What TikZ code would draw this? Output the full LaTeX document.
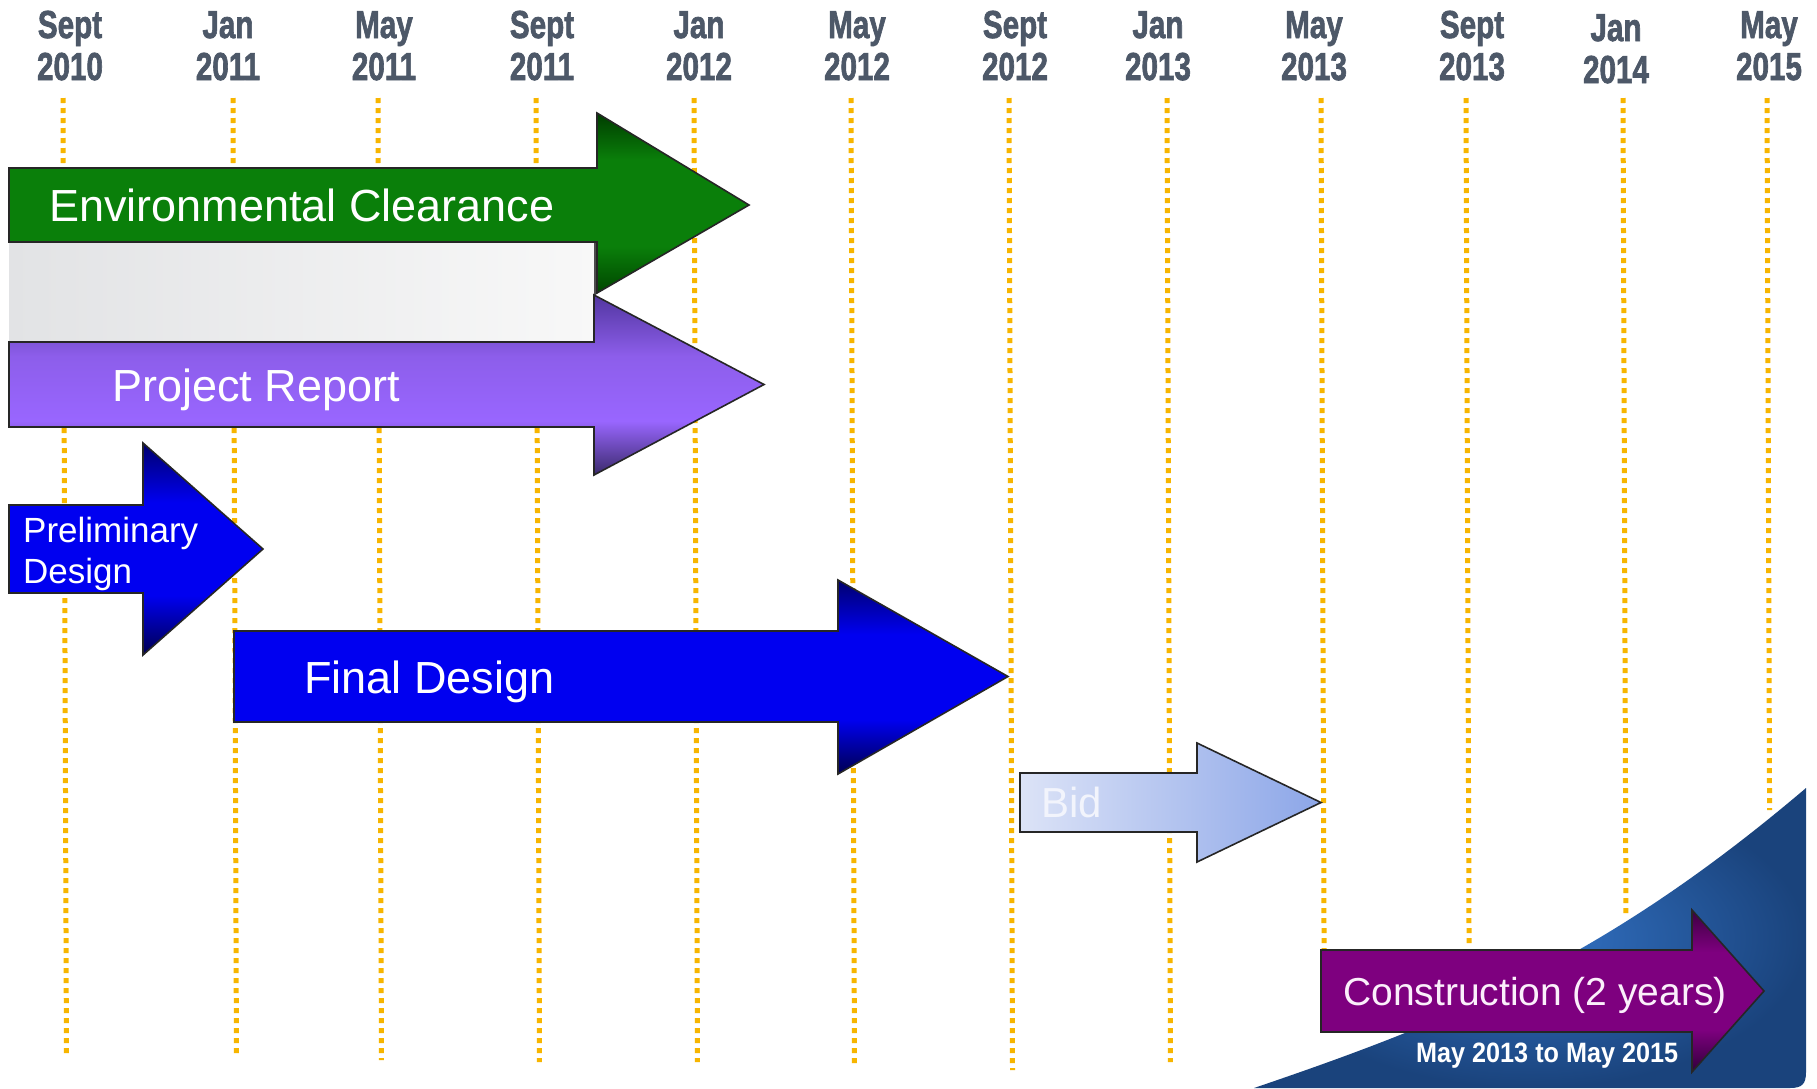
\documentclass[tikz,border=0pt]{standalone}
\usepackage{fontspec}
\setmainfont{Liberation Sans}
\newfontfamily\datefont{Liberation Sans}[BoldFeatures={FakeBold=2}]
\definecolor{dotc}{HTML}{F7B500}
\definecolor{datec}{HTML}{4D5868}
\definecolor{gdkT}{HTML}{003C00}
\definecolor{gmid}{HTML}{0A7F0A}
\definecolor{gdkB}{HTML}{004600}
\definecolor{pdkT}{HTML}{5236A0}
\definecolor{pmid}{HTML}{9966FF}
\definecolor{pdkB}{HTML}{3A2A6B}
\definecolor{bdkT}{HTML}{00006E}
\definecolor{bmid}{HTML}{0000F0}
\definecolor{bdkB}{HTML}{000050}
\definecolor{cdkT}{HTML}{3C0040}
\definecolor{cmid}{HTML}{7E007F}
\definecolor{cdkB}{HTML}{30003A}
\definecolor{bidL}{HTML}{DCE3F7}
\definecolor{bidR}{HTML}{8CA6E8}
\definecolor{bidtxt}{HTML}{F2F4FC}
\definecolor{grayL}{HTML}{E2E3E5}
\definecolor{grayR}{HTML}{F8F8F8}
\definecolor{swL}{HTML}{3373C6}
\definecolor{swD}{HTML}{1A437C}
\definecolor{ctxt}{HTML}{FBEFFB}
\pgfdeclareverticalshading{greensh}{100bp}{color(0bp)=(gdkB); color(25bp)=(gdkB); color(38bp)=(gmid); color(62bp)=(gmid); color(75bp)=(gdkT); color(100bp)=(gdkT)}
\pgfdeclareverticalshading{purplesh}{100bp}{color(0bp)=(pdkB); color(25bp)=(pdkB); color(40bp)=(pmid); color(58bp)=(pmid!92!black); color(75bp)=(pdkT); color(100bp)=(pdkT)}
\pgfdeclareverticalshading{bluesh}{100bp}{color(0bp)=(bdkB); color(25bp)=(bdkB); color(39bp)=(bmid); color(61bp)=(bmid); color(75bp)=(bdkT); color(100bp)=(bdkT)}
\pgfdeclareverticalshading{constrsh}{100bp}{color(0bp)=(cdkB); color(25bp)=(cdkB); color(38bp)=(cmid); color(62bp)=(cmid); color(75bp)=(cdkT); color(100bp)=(cdkT)}
\tikzset{
  dotline/.style={draw=dotc, line width=5pt, dash pattern=on 5pt off 5pt},
  arrowbox/.style={draw=black!85, line width=1.6pt, line join=miter},
  datelab/.style={inner sep=0pt, anchor=base, text=datec, font=\datefont\bfseries\fontsize{39}{39}\selectfont},
  bartext/.style={inner sep=0pt, anchor=base west, text=white},
}
\begin{document}
\begin{tikzpicture}[x=1pt,y=-1pt]
\useasboundingbox (0,0) rectangle (1817,1088);
\fill[white] (0,0) rectangle (1817,1088);

% dotted month lines
\foreach \xx/\yb in {63/1053,233/1055,378/1060,536/1062,694/1062,851/1067,1009/1070,1167/1062,1321/949,1466/943,1623/913,1767/810}
  \draw[dotline] (\xx,98) -- ({\xx+3.5*(\yb-98)/970},\yb);

% date labels
\foreach \xx/\ma/\yr/\dy [count=\i] in {70/Sept/2010/0,228/Jan/2011/0,384/May/2011/0,542/Sept/2011/0,699/Jan/2012/0,857/May/2012/0,1015/Sept/2012/0,1158/Jan/2013/0,1314/May/2013/0,1472/Sept/2013/0,1616/Jan/2014/3,1769/May/2015/0}{
  \node[datelab] (m\i) at (\xx,38+\dy) {\scalebox{0.76}[1]{\ma}};
  \node[datelab] (y\i) at (\xx,80+\dy) {\scalebox{0.76}[1]{\yr}};
}

% blue swoosh
\shade[inner color=swL, outer color=swD] (1254,1088) .. controls (1454,1020) and (1606,958) .. (1806,788) -- (1806,1072) .. controls (1806,1084) and (1802,1088) .. (1790,1088) -- cycle;

% gray band
\shade[left color=grayL, right color=grayR] (9,242) rectangle (595,342);
\draw[black!70, line width=1.2pt] (595,242) -- (595,342);

% Environmental Clearance
\shade[shading=greensh, arrowbox] (9,168) -- (597,168) -- (597,113) -- (749,205) -- (597,293) -- (597,242) -- (9,242) -- cycle;
% Project Report
\shade[shading=purplesh, arrowbox] (9,342) -- (594,342) -- (594,295) -- (764,384.5) -- (594,475) -- (594,427) -- (9,427) -- cycle;
% Preliminary Design
\shade[shading=bluesh, arrowbox] (9,505) -- (143,505) -- (143,443) -- (263,549) -- (143,655) -- (143,593) -- (9,593) -- cycle;
% Final Design
\shade[shading=bluesh, arrowbox] (234,631) -- (838,631) -- (838,580) -- (1008,676.5) -- (838,774) -- (838,722) -- (234,722) -- cycle;
% Bid
\shade[left color=bidL, right color=bidR, arrowbox] (1020,773) -- (1197,773) -- (1197,743) -- (1321,802.5) -- (1197,862) -- (1197,832) -- (1020,832) -- cycle;
% Construction
\shade[shading=constrsh, arrowbox] (1321,950) -- (1692,950) -- (1692,910) -- (1764,991) -- (1692,1072) -- (1692,1032) -- (1321,1032) -- cycle;

% texts
\node[bartext, font=\fontsize{45}{45}\selectfont] (ec) at (49,221) {Environmental Clearance};
\node[bartext, font=\fontsize{45}{45}\selectfont] (pr) at (112,401) {Project Report};
\node[bartext, font=\fontsize{35}{35}\selectfont] (pd1) at (23,542) {Preliminary};
\node[bartext, font=\fontsize{35}{35}\selectfont] (pd2) at (23,583) {Design};
\node[bartext, font=\fontsize{45}{45}\selectfont] (fd) at (304,693) {Final Design};
\node[bartext, text=bidtxt, font=\fontsize{42}{42}\selectfont] (bid) at (1041,817) {Bid};
\node[bartext, text=ctxt, font=\fontsize{39}{39}\selectfont] (con) at (1343,1005) {Construction (2 years)};
\node[bartext, font=\bfseries\fontsize{28}{28}\selectfont] (dates) at (1416,1062) {\scalebox{0.9}[1]{May 2013 to May 2015}};
\end{tikzpicture}
\end{document}
